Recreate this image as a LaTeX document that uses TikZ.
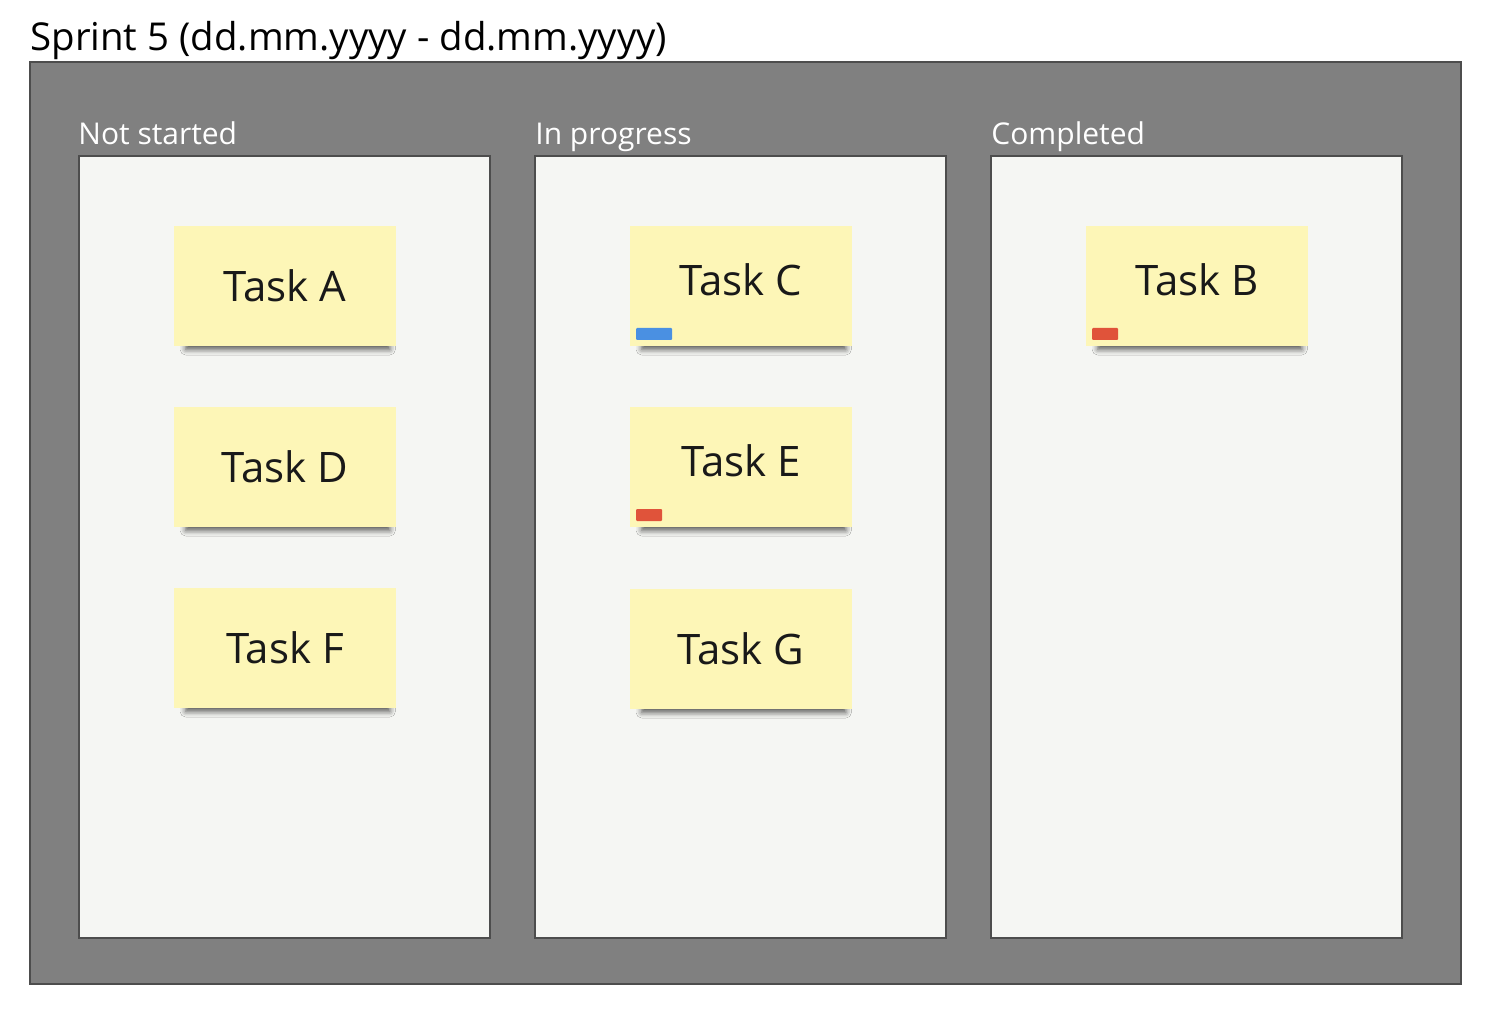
\documentclass[tikz,border=0pt]{standalone}
\usepackage{fontspec}
\setmainfont{Open Sans}
\usepackage{xcolor}
\usepackage{tikz}
\usetikzlibrary{positioning, shadows.blur}

\definecolor{boardgray}{HTML}{808080}
\definecolor{boardline}{HTML}{4D4D4D}
\definecolor{colfill}{HTML}{F5F6F3}
\definecolor{stickyyellow}{HTML}{FDF6B7}
\definecolor{tagblue}{HTML}{4A90E2}
\definecolor{tagred}{HTML}{E0533A}

\begin{document}
\begin{tikzpicture}[
            x=0.5pt, y=-0.5pt,
            colbox/.style={draw=boardline, fill=colfill, line width=0.6pt},
            header/.style={anchor=base west, text=white, inner sep=0pt, font=\fontsize{15}{18}\selectfont},
            sticky/.style={fill=stickyyellow, minimum width=111pt, minimum height=60pt, inner sep=0pt,
                text=black!90, font=\fontsize{21}{25}\selectfont,
                blur shadow={shadow xshift=1.5pt, shadow yshift=-4.5pt, shadow scale=0.92, shadow blur radius=3pt, shadow opacity=65}},
            tagged/.style={text depth=6pt},
            tag/.style={minimum width=18pt, minimum height=6pt, inner sep=0pt, rounded corners=0.5pt},
        ]
        \useasboundingbox (0,0) rectangle (1494,1010);
        \node[anchor=base west, inner sep=0pt, font=\fontsize{19.2}{23}\selectfont] (title) at (30,51) {Sprint 5 (dd.mm.yyyy - dd.mm.yyyy)};
        \draw[fill=boardgray, draw=boardline, line width=1pt] (30,62) rectangle (1461,984);

        % columns
        \draw[colbox] (79,156) rectangle (490,938);
        \draw[colbox] (535,156) rectangle (946,938);
        \draw[colbox] (991,156) rectangle (1402,938);
        \node[header] (hNot) at (78,145) {Not started};
        \node[header] (hProg) at (535,145) {In progress};
        \node[header] (hDone) at (991,145) {Completed};

        % stickies
        \node[sticky] (tA) at (285,286) {Task A};
        \node[sticky] (tD) at (285,467) {Task D};
        \node[sticky] (tF) at (285,648) {Task F};
        \node[sticky, tagged] (tC) at (741,286) {Task C};
        \node[sticky, tagged] (tE) at (741,467) {Task E};
        \node[sticky] (tG) at (741,649) {Task G};
        \node[sticky, tagged] (tB) at (1197,286) {Task B};

        % tags
        \node[tag, fill=tagblue, above right=3pt and 3pt of tC.south west] (tagC) {};
        \node[tag, fill=tagred, minimum width=13pt, above right=3pt and 3pt of tE.south west] (tagE) {};
        \node[tag, fill=tagred, minimum width=13pt, above right=3pt and 3pt of tB.south west] (tagB) {};
        \end{tikzpicture}
\end{document}
